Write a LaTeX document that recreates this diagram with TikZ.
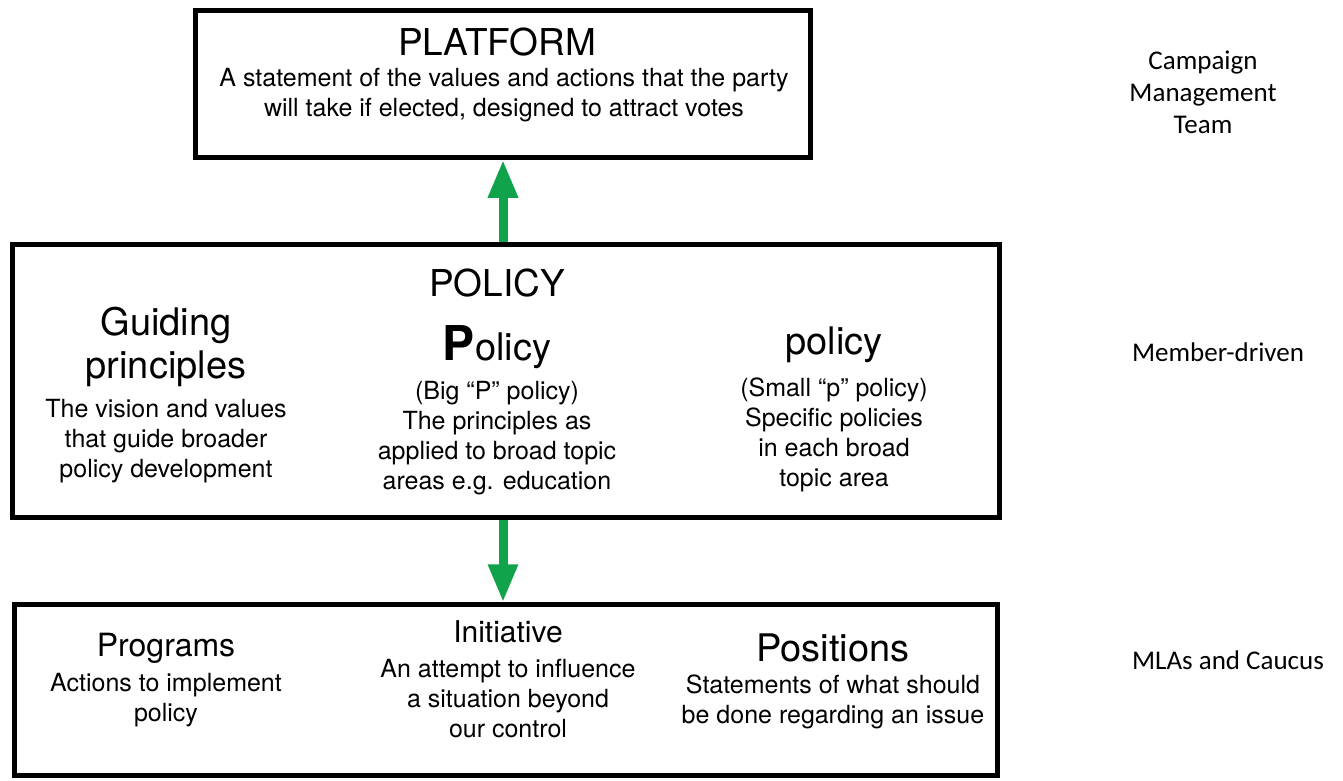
\documentclass[tikz,border=0pt]{standalone}
\usepackage{fontspec}
\setmainfont{TeX Gyre Heros}
\newfontfamily\teamfont{Carlito}
\usepackage{xcolor}
\usetikzlibrary{arrows.meta, positioning}
\definecolor{feedgreen}{RGB}{16,163,75}
\tikzset{
    tierbox/.style = {draw=black, line width=4.5pt, inner sep=0pt},
    heading/.style = {inner sep=0pt, font=\fontsize{37}{44}\selectfont},
    subhead/.style = {inner sep=0pt, align=center, font=\fontsize{38}{43}\selectfont},
    blurb/.style = {inner sep=0pt, align=center, font=\fontsize{25}{30}\selectfont},
    team/.style = {inner sep=0pt, align=center, font=\teamfont\fontsize{27}{32}\selectfont},
    feed/.style = {draw=feedgreen, line width=9pt,
        -{Triangle[width=28pt, length=38pt]}},
}

\begin{document}
\begin{tikzpicture}[x=1pt, y=-1pt]
        \useasboundingbox (0,0) rectangle (1343,780);
        % the three tiers
        \node [tierbox, minimum width=615pt, minimum height=147pt] (platform) at (503,84) {};
        \node [tierbox, minimum width=987pt, minimum height=273pt] (policy) at (506,381) {};
        \node [tierbox, minimum width=983pt, minimum height=171pt] (lower) at (506,690) {};
        % platform
        \node [heading] (platformhead) at (497,42) {PLATFORM};
        \node [blurb] (platformtext) at (504,95) {A statement of the values and actions that the party\\
            will take if elected, designed to attract votes};
        % policy
        \node [heading] (policyhead) at (497,283) {POLICY};
        \node [subhead] (guide) at (166,347) {Guiding\\principles};
        \node [blurb] (guidetext) at (166,441) {The vision and values\\that guide broader\\policy development};
        \node [subhead] (bigp) at (497,347) {{\fontsize{48}{48}\selectfont\bfseries P}olicy};
        \node [blurb] (bigptext) at (497,438) {(Big ``P'' policy)\\The principles as\\applied to broad topic\\areas e.g. education};
        \node [subhead] (smallp) at (834,345) {policy};
        \node [blurb] (smallptext) at (834,435) {(Small ``p'' policy)\\Specific policies\\in each broad\\topic area};
        % lower tier
        \node [subhead, font=\fontsize{32}{38}\selectfont] (programs) at (166,648) {Programs};
        \node [blurb] (programstext) at (166,700) {Actions to implement\\policy};
        \node [subhead, font=\fontsize{30}{36}\selectfont] (initiative) at (508,632) {Initiative};
        \node [blurb] (initiativetext) at (508,699) {An attempt to influence\\a situation beyond\\our control};
        \node [subhead] (positions) at (833,648) {Positions};
        \node [blurb] (positionstext) at (833,702) {Statements of what should\\be done regarding an issue};
        % who drives each tier
        \node [team] (campaign) at (1203,92) {Campaign\\Management\\Team};
        \node [team] (members) at (1218,352) {Member-driven};
        \node [team] (mlas) at (1228,660) {MLAs and Caucus};
        % arrows between tiers
        \draw [feed] (policy.north -| platform.south) -- (platform.south);
        \draw [feed] (policy.south -| platform.south) -- (lower.north -| platform.south);
\end{tikzpicture}
\end{document}
